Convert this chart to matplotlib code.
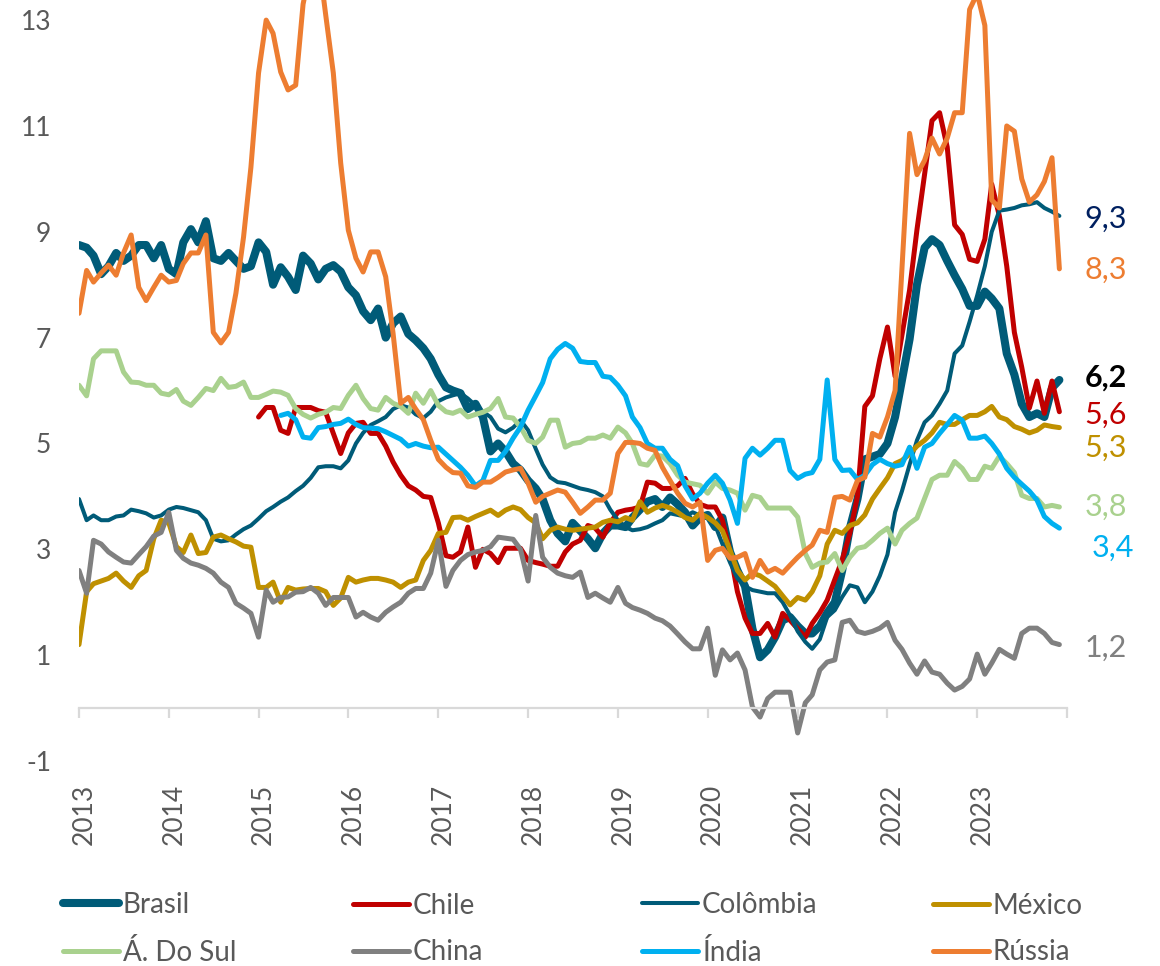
#importazione librerie
import numpy as np
import pandas as pd
import matplotlib
matplotlib.use('Agg')
from matplotlib import pyplot as plt
from matplotlib.lines import Line2D
from matplotlib.transforms import offset_copy

plt.rcParams['font.family'] = ['Lato', 'DejaVu Sans']
plt.rcParams['axes.unicode_minus'] = False

# dati mensili gen/2013 - dic/2023
dates = pd.date_range('2013-01-01', periods=132, freq='MS')

brasil = [8.75, 8.7, 8.55, 8.2, 8.35, 8.6, 8.45, 8.55, 8.75, 8.75, 8.5, 8.75,
          8.3, 8.2, 8.8, 9.05, 8.8, 9.2, 8.5, 8.45, 8.6, 8.45, 8.3, 8.35,
          8.8, 8.62, 8.0, 8.33, 8.15, 7.9, 8.55, 8.4, 8.1, 8.3, 8.37, 8.25,
          7.95, 7.8, 7.5, 7.33, 7.55, 7.0, 7.27, 7.4, 7.07, 6.95, 6.8, 6.6,
          6.3, 6.06, 6.0, 5.95, 5.65, 5.75, 5.5, 4.85, 5.0, 4.85, 4.62, 4.5,
          4.3, 4.15, 3.95, 3.55, 3.3, 3.15, 3.5, 3.35, 3.2, 3.02, 3.3, 3.45,
          3.45, 3.42, 3.6, 3.75, 3.9, 3.95, 3.8, 3.98, 3.85, 3.7, 3.45, 3.6,
          3.65, 3.42, 3.6, 2.95, 2.6, 2.3, 1.5, 0.96, 1.1, 1.34, 1.66, 1.72,
          1.55, 1.41, 1.41, 1.55, 1.8, 2.0, 2.6, 3.4, 3.95, 4.7, 4.75, 4.8,
          5.0, 5.5, 6.2, 6.97, 8.0, 8.7, 8.86, 8.75, 8.45, 8.18, 7.92, 7.6,
          7.6, 7.87, 7.74, 7.55, 6.7, 6.3, 5.75, 5.5, 5.57, 5.5, 6.05, 6.2]

chile = [np.nan] * 24 + [
          5.5, 5.68, 5.68, 5.25, 5.19, 5.68, 5.68, 5.68, 5.62, 5.59, 5.19, 4.81,
          5.2, 5.38, 5.4, 5.19, 5.19, 4.95, 4.65, 4.4, 4.2, 4.12, 4.0, 3.98,
          3.5, 2.88, 2.85, 2.95, 3.42, 2.66, 3.0, 2.92, 2.75, 3.02, 3.02, 3.02,
          2.79, 2.75, 2.72, 2.68, 2.68, 2.95, 3.1, 3.17, 3.45, 3.4, 3.23, 3.5,
          3.7, 3.74, 3.76, 3.8, 4.27, 4.25, 4.15, 4.15, 4.2, 4.34, 4.05, 3.85,
          3.8, 3.8, 3.55, 2.95, 2.2, 1.7, 1.41, 1.41, 1.6, 1.34, 1.79, 1.66,
          1.5, 1.34, 1.6, 1.8, 2.04, 2.43, 2.8, 3.3, 4.0, 5.7, 5.9, 6.6,
          7.2, 6.27, 7.05, 7.9, 9.04, 10.08, 11.1, 11.25, 10.6, 9.13, 8.95, 8.48,
          8.44, 8.86, 9.9, 9.3, 8.35, 7.1, 6.44, 5.67, 6.18, 5.57, 6.18, 5.6]

colombia = [3.95, 3.55, 3.64, 3.55, 3.55, 3.62, 3.64, 3.75, 3.72, 3.68, 3.6, 3.64,
            3.75, 3.8, 3.78, 3.74, 3.7, 3.55, 3.2, 3.15, 3.17, 3.28, 3.38, 3.45,
            3.58, 3.72, 3.8, 3.9, 3.98, 4.1, 4.2, 4.35, 4.55, 4.57, 4.57, 4.53,
            4.68, 5.0, 5.2, 5.35, 5.42, 5.5, 5.65, 5.72, 5.68, 5.55, 5.48, 5.6,
            5.8, 5.87, 5.91, 5.95, 5.85, 5.72, 5.6, 5.5, 5.28, 5.21, 5.3, 5.44,
            5.25, 4.9, 4.6, 4.36, 4.27, 4.25, 4.2, 4.15, 4.12, 4.08, 4.0, 3.75,
            3.55, 3.42, 3.36, 3.38, 3.42, 3.49, 3.55, 3.68, 3.65, 3.62, 3.7, 3.64,
            3.6, 3.45, 3.1, 2.75, 2.45, 2.3, 2.23, 2.2, 2.17, 2.17, 2.0, 1.75,
            1.45, 1.25, 1.12, 1.3, 1.72, 1.85, 2.1, 2.32, 2.28, 2.0, 2.2, 2.5,
            2.9, 3.7, 4.1, 4.6, 5.06, 5.4, 5.53, 5.75, 6.0, 6.7, 6.85, 7.3,
            7.8, 8.35, 9.0, 9.4, 9.42, 9.45, 9.5, 9.52, 9.56, 9.45, 9.38, 9.3]

mexico = [1.2, 2.2, 2.35, 2.4, 2.45, 2.55, 2.4, 2.28, 2.5, 2.6, 3.2, 3.55,
          3.5, 3.05, 2.94, 3.27, 2.92, 2.94, 3.23, 3.27, 3.2, 3.14, 3.06, 3.04,
          2.28, 2.28, 2.38, 2.0, 2.28, 2.23, 2.25, 2.26, 2.26, 2.2, 1.94, 2.08,
          2.47, 2.38, 2.42, 2.45, 2.45, 2.42, 2.38, 2.28, 2.38, 2.42, 2.79, 2.98,
          3.3, 3.32, 3.6, 3.61, 3.55, 3.62, 3.68, 3.74, 3.64, 3.74, 3.8, 3.75,
          3.6, 3.5, 3.2, 3.36, 3.42, 3.38, 3.36, 3.38, 3.4, 3.42, 3.51, 3.55,
          3.52, 3.6, 3.55, 3.9, 3.7, 3.78, 3.83, 3.78, 3.7, 3.6, 3.55, 3.68,
          3.6, 3.5, 3.35, 2.98, 2.6, 2.42, 2.55, 2.5, 2.4, 2.3, 2.12, 1.95,
          2.09, 2.04, 2.2, 2.5, 3.1, 3.36, 3.3, 3.45, 3.5, 3.65, 3.95, 4.15,
          4.35, 4.62, 4.68, 4.8, 4.95, 5.06, 5.2, 5.4, 5.36, 5.36, 5.45, 5.53,
          5.53, 5.6, 5.7, 5.5, 5.45, 5.32, 5.27, 5.2, 5.25, 5.35, 5.32, 5.3]

africa_sul = [6.1, 5.9, 6.6, 6.75, 6.75, 6.75, 6.35, 6.16, 6.15, 6.1, 6.1, 5.95,
              5.92, 6.02, 5.8, 5.72, 5.87, 6.04, 6.0, 6.23, 6.06, 6.08, 6.16, 5.87,
              5.87, 5.93, 5.99, 5.97, 5.91, 5.66, 5.55, 5.48, 5.55, 5.59, 5.68, 5.66,
              5.91, 6.1, 5.85, 5.66, 5.63, 5.87, 5.76, 5.7, 5.57, 5.95, 5.76, 6.0,
              5.72, 5.6, 5.57, 5.63, 5.5, 5.55, 5.59, 5.66, 5.85, 5.5, 5.48, 5.31,
              5.06, 5.0, 5.12, 5.44, 5.44, 4.93, 5.0, 5.02, 5.1, 5.1, 5.16, 5.1,
              5.31, 5.2, 5.0, 4.62, 4.59, 4.78, 4.76, 4.62, 4.4, 4.27, 4.24, 4.21,
              4.06, 4.27, 4.15, 4.12, 4.06, 3.74, 4.02, 3.98, 3.78, 3.78, 3.78, 3.78,
              3.61, 2.92, 2.66, 2.74, 2.76, 2.92, 2.6, 2.85, 3.02, 3.05, 3.17, 3.3,
              3.4, 3.1, 3.36, 3.49, 3.59, 3.96, 4.32, 4.4, 4.4, 4.66, 4.53, 4.32,
              4.32, 4.57, 4.53, 4.76, 4.62, 4.45, 4.02, 3.96, 3.96, 3.8, 3.83, 3.8]

china = [2.6, 2.17, 3.17, 3.1, 2.95, 2.85, 2.76, 2.74, 2.9, 3.05, 3.25, 3.32,
         3.7, 2.98, 2.83, 2.74, 2.7, 2.64, 2.55, 2.38, 2.28, 1.98, 1.89, 1.79,
         1.34, 2.23, 2.0, 2.09, 2.1, 2.19, 2.2, 2.28, 2.17, 1.94, 2.09, 2.09,
         2.09, 1.72, 1.81, 1.72, 1.66, 1.81, 1.91, 2.0, 2.17, 2.26, 2.26, 2.55,
         3.17, 2.3, 2.6, 2.79, 2.9, 2.95, 2.98, 3.05, 3.23, 3.21, 3.19, 3.0,
         2.4, 3.64, 2.85, 2.66, 2.55, 2.5, 2.47, 2.57, 2.09, 2.17, 2.08, 2.0,
         2.28, 1.98, 1.9, 1.85, 1.79, 1.7, 1.65, 1.55, 1.4, 1.25, 1.12, 1.12,
         1.51, 0.62, 1.1, 0.91, 1.04, 0.72, 0.02, -0.17, 0.18, 0.3, 0.3, 0.3,
         -0.47, 0.1, 0.25, 0.72, 0.87, 0.91, 1.62, 1.66, 1.45, 1.41, 1.45, 1.51,
         1.62, 1.28, 1.11, 0.85, 0.64, 0.89, 0.68, 0.64, 0.47, 0.34, 0.41, 0.55,
         1.02, 0.64, 0.85, 1.11, 1.02, 0.94, 1.41, 1.51, 1.51, 1.41, 1.24, 1.2]

india = [np.nan] * 27 + [
         5.53, 5.57, 5.45, 5.12, 5.1, 5.3, 5.32, 5.36, 5.38,
         5.46, 5.36, 5.3, 5.29, 5.28, 5.22, 5.15, 5.08, 4.95, 5.0, 4.95, 4.92,
         4.93, 4.8, 4.68, 4.55, 4.4, 4.2, 4.3, 4.68, 4.68, 4.85, 5.1, 5.31,
         5.63, 5.9, 6.15, 6.6, 6.78, 6.89, 6.8, 6.55, 6.53, 6.53, 6.27, 6.25,
         6.1, 5.9, 5.5, 5.3, 5.0, 4.91, 4.91, 4.7, 4.58, 4.2, 3.95, 4.06,
         4.25, 4.4, 4.25, 3.93, 3.49, 4.72, 4.91, 4.78, 4.91, 5.06, 5.06, 4.49,
         4.34, 4.42, 4.45, 4.7, 6.2, 4.7, 4.49, 4.5, 4.32, 4.4, 4.6, 4.7,
         4.62, 4.57, 4.6, 4.93, 4.53, 4.93, 5.0, 5.19, 5.36, 5.53, 5.44, 5.1,
         5.1, 5.14, 5.0, 4.8, 4.53, 4.36, 4.23, 4.1, 3.93, 3.62, 3.49, 3.4]

russia = [7.46, 8.27, 8.05, 8.22, 8.37, 8.18, 8.6, 8.94, 7.95, 7.7, 7.95, 8.18,
          8.05, 8.08, 8.4, 8.6, 8.6, 8.94, 7.1, 6.9, 7.1, 7.84, 8.9, 10.22,
          12.0, 13.0, 12.75, 12.02, 11.68, 11.77, 13.3, 14.0, 14.2, 13.1, 12.0, 10.3,
          9.03, 8.5, 8.24, 8.62, 8.62, 8.15, 7.08, 5.76, 5.87, 5.65, 5.45, 5.06,
          4.7, 4.55, 4.45, 4.44, 4.2, 4.17, 4.27, 4.27, 4.36, 4.46, 4.5, 4.53,
          4.25, 3.89, 4.0, 4.06, 4.12, 4.08, 3.89, 3.68, 3.8, 3.93, 3.93, 4.06,
          4.81, 5.02, 5.02, 5.0, 4.91, 4.87, 4.55, 4.3, 4.06, 3.87, 3.8, 3.89,
          2.79, 2.98, 3.02, 2.83, 2.85, 2.92, 2.47, 2.79, 2.57, 2.64, 2.55, 2.7,
          2.85, 2.98, 3.08, 3.36, 3.32, 3.98, 4.0, 3.93, 4.3, 4.36, 5.19, 5.12,
          5.5, 6.0, 8.3, 10.86, 10.08, 10.35, 10.77, 10.47, 10.77, 11.25, 11.25, 13.2,
          13.5, 12.9, 9.6, 9.45, 11.0, 10.9, 10.0, 9.56, 9.7, 9.95, 10.4, 8.3]

names = ['Brasil', 'Chile', 'Colômbia', 'México', 'Á. Do Sul', 'China', 'Índia', 'Rússia']
series = [brasil, chile, colombia, mexico, africa_sul, china, india, russia]
colors = ['#005B78', '#C00000', '#005B78', '#BF9000', '#A9D18E', '#808080', '#00B0F0', '#ED7D31']
widths = [5.8, 3.6, 2.9, 3.6, 3.6, 3.6, 3.6, 3.6]

# etichette a destra: posizione verticale (in unità del grafico) e colore
label_order = ['Colômbia', 'Rússia', 'Brasil', 'Chile', 'México', 'Á. Do Sul', 'Índia', 'China']
label_y = [9.24, 8.28, 6.24, 5.54, 4.92, 3.80, 3.02, 1.13]
label_x = [1.018, 1.018, 1.018, 1.018, 1.018, 1.018, 1.025, 1.018]
label_colors = ['#002060', '#ED7D31', '#000000', '#C00000', '#BF9000', '#A9D18E', '#00B0F0', '#808080']

grey = '#595959'
axis_grey = '#D9D9D9'

fig = plt.figure(figsize=(11.6, 9.66), dpi=100)
ax = fig.add_axes([79 / 1160, 1 - 761 / 966, 988 / 1160, 761 / 966])

lines = {}
for name, vals, c, lw in zip(names, series, colors, widths):
    ln, = ax.plot(dates, vals, color=c, lw=lw, solid_joinstyle='round',
                  solid_capstyle='round')
    lines[name] = ln

ax.set_xlim(pd.Timestamp('2013-01-01'), pd.Timestamp('2024-01-01'))
ax.set_ylim(-1, 13.38)

# asse orizzontale che passa per lo zero
for s in ['top', 'right', 'left']:
    ax.spines[s].set_visible(False)
ax.spines['bottom'].set_position(('data', 0))
ax.spines['bottom'].set_color(axis_grey)
ax.spines['bottom'].set_linewidth(1.6)

years = list(range(2013, 2025))
ax.set_xticks([pd.Timestamp(f'{y}-01-01') for y in years])
ax.tick_params(axis='x', direction='out', length=7.5, width=1.6, color=axis_grey,
               labelbottom=False)

ax.set_yticks(range(-1, 14, 2))
ax.tick_params(axis='y', length=0, pad=20, labelsize=19, labelcolor=grey)

# anni sotto il grafico, ruotati
trans = offset_copy(ax.get_xaxis_transform(), fig=fig, x=5, y=-23, units='dots')
for y in years[:-1]:
    ax.text(pd.Timestamp(f'{y}-01-01'), 0, str(y), transform=trans, rotation=90,
            ha='center', va='top', fontsize=19, color=grey)

# ultimo valore di ogni paese
for name, ypos, xpos, c in zip(label_order, label_y, label_x, label_colors):
    last = series[names.index(name)][-1]
    txt = f'{last:.1f}'.replace('.', ',')
    ax.text(xpos, ypos, txt, transform=ax.get_yaxis_transform(), ha='left',
            va='center', fontsize=22, color=c,
            fontweight='bold' if name == 'Brasil' else 'normal', clip_on=False)

# legenda su 4 colonne
col_x = [63, 353, 642, 933]
for i in range(4):
    top_name = names[i]
    bot_name = names[i + 4]
    hs = [Line2D([], [], color=lines[n].get_color(), lw=lines[n].get_linewidth(),
                 solid_capstyle='round') for n in (top_name, bot_name)]
    fig.legend(hs, [top_name, bot_name], loc='center left',
               bbox_to_anchor=(col_x[i] / 1160, 1 - 929 / 966),
               frameon=False, fontsize=20, labelcolor=grey, handlelength=2.0,
               handletextpad=0.15, borderpad=0, borderaxespad=0, labelspacing=0.75)

plt.savefig('out.png', dpi=100)
